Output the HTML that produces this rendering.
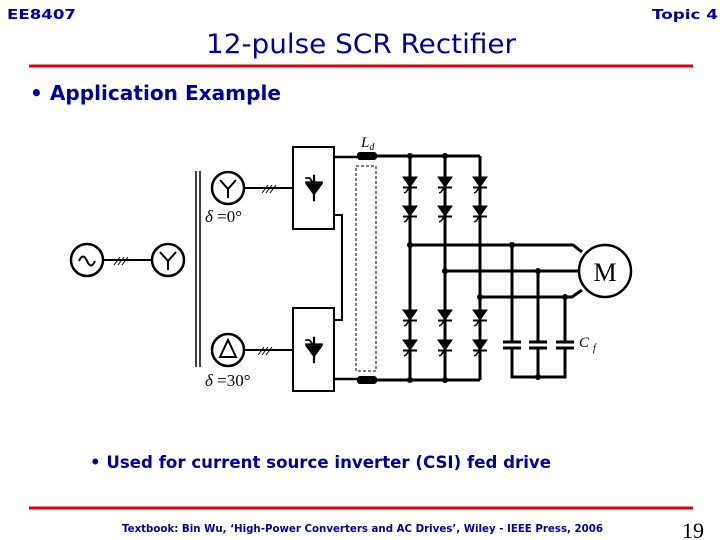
<!DOCTYPE html>
<html><head><meta charset="utf-8"><style>
html,body{margin:0;padding:0;background:#fff}
body{width:720px;height:540px;overflow:hidden;position:relative}
</style></head><body>
<svg width="720" height="540" viewBox="0 0 720 540" xmlns="http://www.w3.org/2000/svg" style="position:absolute;left:0;top:0">
<defs>
<g id="scr" stroke="#000" stroke-width="2" fill="#000">
<path d="M-7,-5 L7,-5 L0,5 Z" stroke-width="1"/>
<line x1="-7" y1="5.5" x2="7" y2="5.5"/>
<path d="M-1,6 L-4,10 L-6,11" fill="none" stroke-width="1.5"/>
</g>
</defs>
<g font-family="'DejaVu Sans',sans-serif" fill="#0000a0" font-weight="bold">
<text x="7" y="19" font-size="13" textLength="69" lengthAdjust="spacingAndGlyphs">EE8407</text>
<text x="652" y="19" font-size="13" textLength="66" lengthAdjust="spacingAndGlyphs">Topic 4</text>
<text x="30" y="100" font-size="20" textLength="251" lengthAdjust="spacingAndGlyphs">• Application Example</text>
<text x="90" y="468" font-size="17" textLength="461" lengthAdjust="spacingAndGlyphs">• Used for current source inverter (CSI) fed drive</text>
<text x="122" y="532" font-size="11" textLength="481" lengthAdjust="spacingAndGlyphs">Textbook: Bin Wu, ‘High-Power Converters and AC Drives’, Wiley - IEEE Press, 2006</text>
</g>
<text x="206" y="53" font-size="27" textLength="310" lengthAdjust="spacingAndGlyphs" font-family="'DejaVu Sans',sans-serif" fill="#0000a0">12-pulse SCR Rectifier</text>
<line x1="29" y1="66" x2="693" y2="66" stroke="#e00010" stroke-width="3"/>
<line x1="29" y1="508" x2="693" y2="508" stroke="#e00010" stroke-width="3"/>
<text x="704" y="538" font-size="22" text-anchor="end" font-family="'Liberation Serif',serif" fill="#000">19</text>

<g stroke="#000" stroke-width="2.5" fill="none">
<circle cx="87" cy="260" r="16"/>
<path d="M79,261 q4,-9 8,0 q4,9 8,0" stroke-width="2"/>
<line x1="103" y1="260" x2="152" y2="260" stroke-width="2"/>
<path d="M114,265 l6,-8 M118,265 l6,-8 M122,265 l6,-8" stroke-width="1"/>
<circle cx="168" cy="260" r="16"/>
<path d="M160,252 L168,261 L176,252 M168,261 L168,270" stroke-width="2"/>
<line x1="196" y1="171" x2="196" y2="367" stroke-width="1.5"/>
<line x1="200" y1="171" x2="200" y2="367" stroke-width="1.5"/>
<circle cx="228" cy="188" r="16"/>
<path d="M220,180 L228,189 L236,180 M228,189 L228,198" stroke-width="2"/>
<line x1="244" y1="188" x2="293" y2="188" stroke-width="2"/>
<path d="M262,193 l6,-8 M266,193 l6,-8 M270,193 l6,-8" stroke-width="1"/>
<circle cx="228" cy="350" r="16"/>
<path d="M228,340 L236,357 L220,357 Z" stroke-width="2"/>
<line x1="244" y1="350" x2="293" y2="350" stroke-width="2"/>
<path d="M258,355 l6,-8 M262,355 l6,-8 M266,355 l6,-8" stroke-width="1"/>
<rect x="293" y="147" width="41" height="82" stroke-width="2"/>
<rect x="293" y="308" width="41" height="83" stroke-width="2"/>
<polyline points="334,215 342,215 342,320 334,320" stroke-width="2"/>
<line x1="334" y1="157" x2="357" y2="157"/>
<line x1="334" y1="379" x2="357" y2="379"/>
<rect x="356" y="166" width="20" height="205" stroke-width="1" stroke-dasharray="3,2"/>
<line x1="377" y1="156" x2="480" y2="156" stroke-width="3"/>
<line x1="377" y1="380" x2="480" y2="380" stroke-width="3"/>
<line x1="410" y1="156" x2="410" y2="380" stroke-width="3"/>
<line x1="445" y1="156" x2="445" y2="380" stroke-width="3"/>
<line x1="480" y1="156" x2="480" y2="380" stroke-width="3"/>
<polyline points="410,245 573,245 582,252" stroke-width="3"/>
<polyline points="445,271 579,271" stroke-width="3"/>
<polyline points="480,297 572,297 582,290" stroke-width="3"/>
<line x1="512" y1="245" x2="512" y2="342" stroke-width="3"/>
<line x1="538" y1="271" x2="538" y2="342" stroke-width="3"/>
<line x1="565" y1="297" x2="565" y2="342" stroke-width="3"/>
<polyline points="512,348 512,377 565,377 565,348" stroke-width="3"/>
<line x1="538" y1="348" x2="538" y2="377" stroke-width="3"/>
<g stroke-width="3">
<line x1="503" y1="342" x2="521" y2="342"/><line x1="503" y1="348" x2="521" y2="348"/>
<line x1="529" y1="342" x2="547" y2="342"/><line x1="529" y1="348" x2="547" y2="348"/>
<line x1="556" y1="342" x2="574" y2="342"/><line x1="556" y1="348" x2="574" y2="348"/>
</g>
<circle cx="605" cy="271" r="26"/>
</g>
<rect x="357" y="152" width="20" height="8" rx="3" fill="#000"/>
<rect x="357" y="376" width="20" height="8" rx="3" fill="#000"/>
<g transform="translate(314,188) scale(1.1)">
<line x1="0" y1="-12" x2="0" y2="12" stroke="#000" stroke-width="2"/>
<path d="M-8,-4 L8,-4 L0,7 Z" fill="#000"/>
<line x1="-8" y1="-5" x2="8" y2="-5" stroke="#000" stroke-width="2"/>
<path d="M-1,-5 L-4,-9 L-8,-9" stroke="#000" stroke-width="1.5" fill="none"/>
</g>
<g transform="translate(314,350) scale(1.1)">
<line x1="0" y1="-12" x2="0" y2="12" stroke="#000" stroke-width="2"/>
<path d="M-8,-4 L8,-4 L0,7 Z" fill="#000"/>
<line x1="-8" y1="-5" x2="8" y2="-5" stroke="#000" stroke-width="2"/>
<path d="M-1,-5 L-4,-9 L-8,-9" stroke="#000" stroke-width="1.5" fill="none"/>
</g>
<use href="#scr" x="410" y="182"/><use href="#scr" x="445" y="182"/><use href="#scr" x="480" y="182"/>
<use href="#scr" x="410" y="211"/><use href="#scr" x="445" y="211"/><use href="#scr" x="480" y="211"/>
<use href="#scr" x="410" y="315"/><use href="#scr" x="445" y="315"/><use href="#scr" x="480" y="315"/>
<use href="#scr" x="410" y="345"/><use href="#scr" x="445" y="345"/><use href="#scr" x="480" y="345"/>
<g fill="#000">
<circle cx="410" cy="156" r="3"/><circle cx="445" cy="156" r="3"/>
<circle cx="410" cy="380" r="3"/><circle cx="445" cy="380" r="3"/>
<circle cx="410" cy="245" r="3"/><circle cx="445" cy="271" r="3"/><circle cx="480" cy="297" r="3"/>
<circle cx="512" cy="245" r="3"/><circle cx="538" cy="271" r="3"/><circle cx="565" cy="297" r="3"/>
<circle cx="538" cy="377" r="3"/>
</g>
<g font-family="'Liberation Serif',serif" fill="#000">
<text x="605" y="281" font-size="26" text-anchor="middle">M</text>
<text x="361" y="147" font-size="15" font-style="italic">L<tspan font-size="10" dy="3">d</tspan></text>
<text x="579" y="347" font-size="15" font-style="italic">C<tspan font-size="10" dx="4" dy="4">f</tspan></text>
<text x="205" y="222" font-size="17"><tspan font-style="italic">δ</tspan> =0°</text>
<text x="205" y="386" font-size="17"><tspan font-style="italic">δ</tspan> =30°</text>
</g>
</svg>
</body></html>
